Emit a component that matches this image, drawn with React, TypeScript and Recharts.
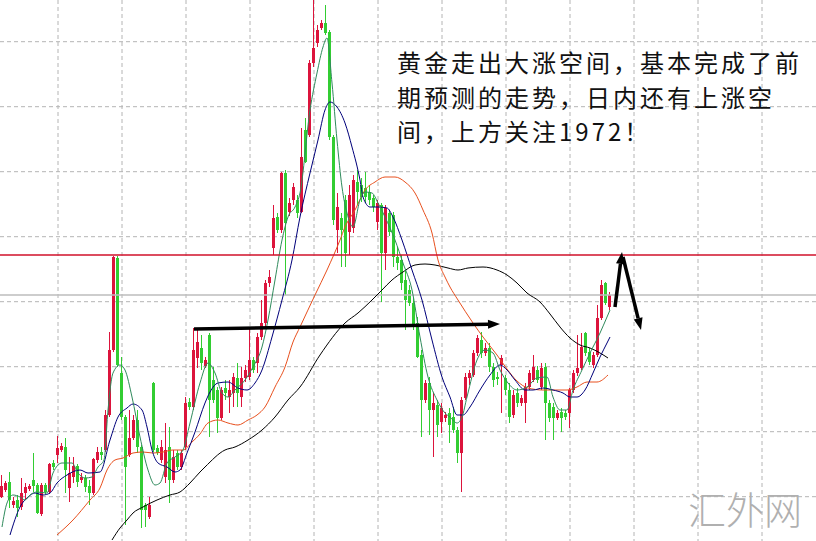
import {
  ComposedChart,
  Bar,
  Line,
  XAxis,
  YAxis,
  CartesianGrid,
  ReferenceLine,
} from "recharts";

// one candle per slot: [open, high, low, close]
const candles: [number, number, number, number][] = [
  [1947.8, 1950.0, 1947.7, 1948.9], [1948.5, 1949.4, 1948.3, 1949.2], [1949.3, 1950.3, 1946.7, 1947.5],
  [1947.0, 1947.8, 1946.7, 1947.4], [1947.5, 1948.0, 1945.8, 1946.7], [1946.8, 1949.7, 1946.5, 1948.2],
  [1948.2, 1949.2, 1947.5, 1948.8], [1948.6, 1949.1, 1948.4, 1948.9], [1949.5, 1952.2, 1948.3, 1948.9],
  [1949.0, 1949.2, 1946.1, 1946.2], [1946.1, 1949.2, 1945.9, 1949.0], [1949.0, 1949.2, 1948.1, 1948.3],
  [1948.3, 1951.2, 1948.1, 1951.1], [1951.2, 1951.5, 1950.5, 1950.8], [1952.0, 1953.9, 1951.2, 1952.7],
  [1952.5, 1953.2, 1952.3, 1952.9], [1952.8, 1953.7, 1948.2, 1950.5], [1948.7, 1951.8, 1947.3, 1950.2],
  [1949.8, 1951.8, 1949.2, 1950.9], [1950.9, 1951.1, 1948.8, 1949.3], [1949.5, 1950.2, 1949.2, 1949.8],
  [1949.7, 1950.0, 1948.3, 1948.8], [1948.9, 1949.5, 1947.0, 1948.2], [1948.2, 1951.7, 1948.0, 1951.6],
  [1951.5, 1952.8, 1951.2, 1952.3], [1952.3, 1952.8, 1951.5, 1952.0], [1952.5, 1956.5, 1952.3, 1956.0],
  [1956.0, 1964.3, 1955.8, 1962.5], [1962.5, 1971.9, 1962.3, 1971.8], [1971.7, 1971.9, 1960.8, 1961.0],
  [1960.2, 1961.8, 1955.5, 1955.8], [1955.8, 1956.0, 1945.0, 1950.8], [1952.0, 1956.5, 1951.8, 1953.7],
  [1953.7, 1956.0, 1953.5, 1955.5], [1955.5, 1956.5, 1952.2, 1952.8], [1952.8, 1953.0, 1944.7, 1946.5],
  [1947.0, 1947.2, 1944.8, 1946.5], [1945.8, 1947.8, 1945.6, 1947.0], [1959.2, 1959.3, 1952.3, 1952.5],
  [1952.7, 1953.0, 1952.0, 1952.2], [1951.5, 1953.5, 1951.2, 1952.8], [1949.8, 1955.2, 1949.2, 1952.5],
  [1952.8, 1954.8, 1947.2, 1949.5], [1949.5, 1952.5, 1949.2, 1951.8], [1952.2, 1952.5, 1950.5, 1950.8],
  [1950.8, 1952.5, 1950.5, 1952.2], [1952.8, 1957.8, 1952.5, 1957.2], [1957.3, 1957.7, 1956.5, 1956.8],
  [1956.8, 1964.7, 1956.5, 1962.5], [1961.7, 1964.5, 1960.7, 1963.3], [1962.7, 1964.0, 1960.5, 1961.2],
  [1960.9, 1961.8, 1960.7, 1961.5], [1964.0, 1964.2, 1953.8, 1957.5], [1959.5, 1960.8, 1957.2, 1957.5],
  [1958.5, 1958.8, 1954.2, 1955.7], [1955.7, 1958.8, 1955.5, 1958.5], [1958.7, 1959.5, 1957.5, 1958.2],
  [1957.8, 1959.5, 1956.2, 1958.5], [1958.2, 1960.2, 1956.8, 1959.8], [1959.7, 1961.2, 1956.8, 1958.2],
  [1957.8, 1960.8, 1956.8, 1959.7], [1959.7, 1961.0, 1959.3, 1960.5], [1959.8, 1964.8, 1959.5, 1961.5],
  [1961.5, 1961.8, 1960.2, 1960.5], [1961.2, 1964.2, 1960.2, 1963.8], [1963.8, 1967.5, 1963.5, 1965.2],
  [1965.2, 1969.5, 1964.8, 1969.2], [1969.2, 1970.5, 1968.8, 1969.8], [1972.7, 1977.0, 1972.0, 1975.7],
  [1975.8, 1976.2, 1974.2, 1974.5], [1974.5, 1980.3, 1974.2, 1980.2], [1980.2, 1980.5, 1968.0, 1975.2],
  [1976.3, 1977.7, 1975.9, 1977.2], [1977.5, 1979.2, 1977.0, 1978.8], [1977.5, 1978.0, 1975.7, 1976.2],
  [1976.3, 1984.7, 1976.2, 1981.8], [1984.5, 1985.7, 1981.2, 1981.3], [1984.0, 1991.5, 1983.8, 1991.2],
  [1991.2, 1997.5, 1990.8, 1992.7], [1993.2, 1995.0, 1992.8, 1994.5], [1994.7, 1995.5, 1994.5, 1995.2],
  [1995.2, 1997.0, 1994.0, 1994.2], [1994.3, 1994.5, 1983.5, 1983.8], [1983.8, 1984.0, 1975.0, 1975.5],
  [1974.5, 1978.2, 1972.2, 1976.8], [1975.7, 1976.2, 1970.8, 1974.5], [1977.5, 1978.0, 1970.8, 1972.2],
  [1974.3, 1979.0, 1972.0, 1978.0], [1974.7, 1980.0, 1974.2, 1979.5], [1979.3, 1980.5, 1977.0, 1978.3],
  [1979.0, 1979.7, 1977.3, 1977.8], [1978.7, 1980.3, 1977.2, 1977.8], [1978.3, 1979.0, 1977.0, 1977.5],
  [1977.7, 1978.0, 1976.3, 1976.8], [1975.3, 1977.5, 1974.5, 1977.2], [1977.0, 1977.2, 1967.3, 1972.2],
  [1972.2, 1977.0, 1970.5, 1976.7], [1976.2, 1976.5, 1973.9, 1974.3], [1976.0, 1976.3, 1970.8, 1971.8],
  [1971.8, 1972.8, 1970.5, 1971.2], [1971.5, 1972.0, 1968.5, 1969.2], [1969.5, 1970.5, 1964.5, 1967.5],
  [1968.5, 1969.0, 1966.9, 1967.2], [1967.2, 1967.7, 1964.5, 1964.8], [1965.2, 1965.8, 1961.7, 1961.8],
  [1962.0, 1962.5, 1953.8, 1957.5], [1957.5, 1959.5, 1957.2, 1959.2], [1959.2, 1959.8, 1954.0, 1956.5],
  [1956.5, 1958.2, 1951.8, 1957.2], [1957.0, 1957.5, 1953.8, 1955.0], [1955.3, 1957.2, 1954.2, 1956.7],
  [1955.7, 1956.3, 1955.3, 1956.0], [1956.2, 1956.7, 1953.2, 1955.0], [1955.8, 1956.8, 1954.2, 1954.5],
  [1954.5, 1954.8, 1951.2, 1952.2], [1952.2, 1957.8, 1948.3, 1957.5], [1957.7, 1960.2, 1957.5, 1959.8],
  [1959.7, 1960.5, 1959.0, 1960.2], [1960.0, 1962.5, 1959.8, 1962.2], [1962.2, 1964.0, 1961.9, 1963.7],
  [1963.5, 1964.3, 1961.7, 1962.2], [1962.2, 1963.2, 1961.9, 1962.7], [1962.7, 1963.2, 1960.3, 1960.8],
  [1960.8, 1961.2, 1958.8, 1959.5], [1959.8, 1960.3, 1959.0, 1959.6], [1961.0, 1962.0, 1956.2, 1961.7],
  [1959.7, 1960.0, 1958.0, 1958.5], [1958.5, 1959.2, 1955.2, 1955.8], [1956.0, 1958.5, 1955.7, 1958.0],
  [1958.2, 1958.7, 1956.8, 1957.2], [1957.2, 1958.0, 1956.9, 1957.7], [1957.2, 1959.2, 1955.2, 1958.8],
  [1958.8, 1960.5, 1958.5, 1960.2], [1959.5, 1962.0, 1959.3, 1960.8], [1960.5, 1960.9, 1959.2, 1959.5],
  [1958.8, 1961.2, 1958.5, 1960.7], [1960.8, 1961.2, 1953.5, 1957.2], [1957.2, 1957.5, 1955.3, 1955.7],
  [1956.8, 1957.2, 1953.5, 1955.7], [1955.7, 1956.5, 1955.5, 1956.2], [1956.3, 1956.7, 1954.3, 1955.7],
  [1956.2, 1956.5, 1955.5, 1955.8], [1956.2, 1958.7, 1954.7, 1958.5], [1958.5, 1960.5, 1958.2, 1960.2],
  [1960.2, 1964.0, 1959.9, 1960.7], [1960.7, 1964.2, 1960.5, 1962.8], [1964.2, 1964.3, 1961.9, 1962.2],
  [1962.3, 1962.7, 1961.0, 1961.3], [1961.0, 1962.3, 1960.7, 1962.0], [1962.0, 1967.0, 1961.8, 1965.7],
  [1965.7, 1969.5, 1965.5, 1969.0], [1969.2, 1969.3, 1967.0, 1967.2], [1966.8, 1968.3, 1966.5, 1968.0],
];

// moving averages: [slot, price]
const maFast: [number, number][] = [
  [0, 1944.8], [1.25, 1947.2], [2.75, 1948.0], [4.5, 1947.8], [5.75, 1947.5], [7, 1948.0], [8.75, 1948.3],
  [11.25, 1948.2], [12.75, 1950.2], [15, 1951.2], [17.5, 1951.2], [19, 1950.2], [20.75, 1949.7],
  [22.5, 1949.8], [24, 1950.8], [25.5, 1951.5], [26.5, 1956.5], [27.75, 1960.2], [29.5, 1961.0],
  [30.75, 1960.5], [32.5, 1957.8], [34.5, 1953.8], [36.5, 1950.5], [38.25, 1949.0], [39.5, 1949.2],
  [41.25, 1951.2], [43.25, 1951.8], [45.25, 1952.5], [47, 1955.2], [49.5, 1959.2], [51.5, 1961.2],
  [53.25, 1960.2], [55, 1958.2], [56.5, 1957.8], [58.25, 1958.5], [60.75, 1959.5], [62.75, 1960.8],
  [65, 1962.8], [66.5, 1965.5], [68.25, 1969.5], [70, 1973.5], [71.5, 1975.8], [73.25, 1976.8],
  [74.5, 1978.2], [77, 1986.5], [78.75, 1990.2], [80.25, 1992.8], [81.25, 1993.7], [82.5, 1989.2],
  [83.75, 1983.5], [85, 1978.8], [86.25, 1976.2], [87.75, 1974.8], [89.5, 1977.5], [90.75, 1978.3],
  [92.5, 1978.2], [94, 1977.2], [95.75, 1975.8], [98.25, 1973.5], [100.25, 1971.2], [102.5, 1968.5],
  [104.5, 1963.8], [106.5, 1959.8], [108.75, 1957.5], [110.75, 1956.2], [112, 1955.8], [113.75, 1955.2],
  [115, 1955.8], [116.25, 1957.8], [118.75, 1961.5], [120.75, 1962.5], [122.75, 1962.2], [124.5, 1960.5],
  [126.5, 1959.2], [128.75, 1958.5], [131.25, 1958.8], [133.75, 1959.7], [136.25, 1959.8],
  [137.75, 1957.8], [139.5, 1956.5], [141.25, 1956.5], [142.75, 1958.5], [145, 1960.5], [147, 1962.2],
  [149.5, 1964.2], [151.25, 1965.8], [152, 1966.5],
];

const maMid: [number, number][] = [
  [2, 1944.0], [4.5, 1946.8], [6.5, 1947.8], [8.25, 1948.2], [10.25, 1948.0], [12, 1948.2],
  [13.75, 1949.2], [16.25, 1950.0], [19.5, 1950.5], [21.5, 1950.2], [24.5, 1950.3], [27, 1953.5],
  [29, 1955.8], [31.25, 1956.7], [32.75, 1957.1], [35, 1956.5], [36.25, 1954.8], [37.5, 1952.5],
  [39, 1951.2], [41.25, 1950.8], [43.25, 1950.3], [44.5, 1950.5], [46.25, 1952.2], [48.25, 1954.3],
  [50.75, 1957.2], [52, 1958.3], [54, 1959.2], [56.5, 1959.3], [59, 1958.7], [61.25, 1958.5],
  [63.25, 1959.2], [65, 1960.5], [67.5, 1963.8], [70, 1967.5], [72.5, 1971.5], [74.5, 1975.8],
  [77, 1980.2], [79, 1983.5], [80.75, 1986.5], [82, 1987.3], [83.75, 1986.8], [85.75, 1985.2],
  [87.5, 1982.8], [89.5, 1979.5], [90.25, 1977.8], [92, 1976.8], [94, 1976.8], [96.25, 1976.7],
  [97.75, 1975.8], [100, 1973.5], [102.5, 1970.5], [105, 1967.5], [107.5, 1963.5], [110, 1959.8],
  [112, 1957.8], [113.75, 1956.0], [115.25, 1956.0], [117, 1956.8], [119.5, 1958.5], [122, 1960.0],
  [124.5, 1961.0], [126.25, 1960.5], [128.25, 1959.5], [130.75, 1958.5], [132.75, 1958.5],
  [135.25, 1958.7], [137.75, 1958.5], [140.25, 1958.2], [142, 1957.8], [143.75, 1957.8],
  [145.75, 1958.5], [147.75, 1960.2], [149.5, 1961.8], [151.25, 1963.2], [152, 1963.8],
];

const maSlow: [number, number][] = [
  [13.75, 1944.0], [17.75, 1945.5], [22, 1947.5], [24.5, 1948.7], [26.25, 1950.5], [28.25, 1951.5],
  [30.25, 1951.7], [32.75, 1952.2], [35.25, 1952.3], [37.75, 1952.2], [40.25, 1952.3], [42.75, 1952.5],
  [45.25, 1952.5], [47.5, 1953.3], [49.5, 1954.1], [51.5, 1955.2], [54, 1955.5], [56.5, 1955.2],
  [59, 1955.0], [61.5, 1955.5], [63.75, 1956.0], [65.75, 1956.8], [68.25, 1958.8], [70.75, 1960.8],
  [72.75, 1963.3], [74.5, 1964.8], [78.25, 1968.0], [81.25, 1970.5], [84.5, 1973.5], [85.75, 1974.8],
  [88.25, 1976.5], [90.75, 1978.5], [93.25, 1979.3], [95.75, 1979.8], [98.25, 1979.8], [100.75, 1979.3],
  [103.25, 1978.2], [105.25, 1976.5], [107.5, 1974.2], [109, 1971.5], [110.75, 1969.8], [112, 1968.8],
  [114, 1967.5], [117.75, 1965.2], [120.25, 1963.8], [123.75, 1962.0], [126.25, 1960.6],
  [128.75, 1959.4], [131.5, 1958.7], [135.25, 1958.5], [137.75, 1958.5], [141.25, 1958.5],
  [143.75, 1958.8], [146.25, 1959.3], [148.75, 1959.3], [151.5, 1960.0],
];

const maLong: [number, number][] = [
  [27.5, 1943.5], [29.5, 1944.7], [31.25, 1945.5], [32.75, 1946.2], [35.25, 1946.8], [38.75, 1947.5],
  [42, 1948.0], [44.5, 1948.3], [47, 1949.2], [49.5, 1950.3], [50.75, 1950.8], [55.75, 1952.5],
  [58.25, 1952.8], [61.5, 1953.5], [65, 1954.5], [68.25, 1955.8], [71.5, 1957.5], [74.5, 1958.8],
  [79.5, 1962.0], [85.75, 1965.2], [89, 1966.2], [92.5, 1967.5], [95, 1968.5], [97.5, 1969.5],
  [100.25, 1970.3], [103.25, 1971.0], [105.75, 1971.1], [108.25, 1971.0], [111.5, 1970.7],
  [114, 1970.5], [116.5, 1970.7], [120.25, 1970.8], [123.75, 1970.5], [126.25, 1970.0],
  [128.75, 1969.2], [131.25, 1968.2], [134.5, 1967.3], [137, 1966.1], [139.5, 1964.8], [142, 1963.7],
  [144.5, 1963.0], [147, 1962.7], [149.5, 1962.2], [151.5, 1961.7],
];

const xTicks = [14, 30, 46, 62, 78, 94, 110, 126, 142, 158, 174, 190];
const yTicks = [1947.83, 1954.33, 1960.83, 1967.33, 1973.83, 1980.33, 1986.83, 1993.33];
const resistance = 1972;
const grayLevel = 1968;

const trendArrow = [{ x: 48, y: 1964.6 }, { x: 124.5, y: 1965.1 }];
const upArrow = [{ x: 153.25, y: 1966.8 }, { x: 155, y: 1972.3 }];
const downArrow = [{ x: 155.25, y: 1971.8 }, { x: 159.75, y: 1964.5 }];

const noteLines = [
  "黄金走出大涨空间，基本完成了前",
  "期预测的走势，日内还有上涨空",
  "间，上方关注1972！",
];
const watermark = "汇外网";

const data = candles.map(([o, h, l, c], i) => ({ i, range: [l, h], o, h, l, c }));
const toPts = (pts: [number, number][]) => pts.map(([i, v]) => ({ i, v }));

const UP = "#DC143C";
const DOWN = "#32CD32";

const Candle = (props: any) => {
  const { x, width, payload } = props;
  let { y, height } = props;
  if (height < 0) {
    y += height;
    height = -height;
  }
  const { o, h, l, c } = payload;
  const color = c >= o ? UP : DOWN;
  const span = h - l || 1;
  const py = (v: number) => y + ((h - v) / span) * height;
  const cx = Math.floor(x + width / 2) + 0.5;
  const top = py(Math.max(o, c));
  const bot = py(Math.min(o, c));
  return (
    <g>
      <line x1={cx} x2={cx} y1={y} y2={y + height} stroke={color} strokeWidth={1} />
      <rect x={cx - 1.5} y={top} width={3} height={Math.max(1, bot - top)} fill={color} />
    </g>
  );
};

const Arrow = (props: any) => {
  const { x1, y1, x2, y2 } = props;
  const ang = Math.atan2(y2 - y1, x2 - x1);
  const len = 12;
  const half = 4.5;
  const bx = x2 - len * Math.cos(ang);
  const by = y2 - len * Math.sin(ang);
  const nx = -Math.sin(ang) * half;
  const ny = Math.cos(ang) * half;
  return (
    <g>
      <line x1={x1} y1={y1} x2={bx} y2={by} stroke="#000" strokeWidth={3.5} />
      <polygon points={`${x2},${y2} ${bx + nx},${by + ny} ${bx - nx},${by - ny}`} fill="#000" />
    </g>
  );
};

const maLine = (pts: [number, number][], color: string) => (
  <Line
    data={toPts(pts)}
    dataKey="v"
    type="monotone"
    stroke={color}
    strokeWidth={1}
    dot={false}
    activeDot={false}
    isAnimationActive={false}
  />
);

export default function App() {
  return (
    <div style={{ position: "absolute", left: 0, top: 0, width: 816, height: 541, background: "#fff" }}>
      <ComposedChart width={816} height={541} data={data} margin={{ top: 0, right: 0, bottom: 0, left: 0 }}>
        <CartesianGrid
          stroke="#b4b4b4"
          strokeDasharray="4 3"
          verticalValues={xTicks}
          horizontalValues={yTicks}
        />
        <XAxis type="number" dataKey="i" domain={[-0.5, 203.5]} ticks={xTicks} hide allowDataOverflow />
        <YAxis type="number" domain={[1943.4, 1997.5]} ticks={yTicks} hide allowDataOverflow />
        <ReferenceLine y={grayLevel} stroke="#bdbdbd" strokeWidth={1.5} />
        <Bar dataKey="range" barSize={3} shape={<Candle />} isAnimationActive={false} />
        {maLine(maLong, "#000")}
        {maLine(maSlow, "#e8501e")}
        {maLine(maMid, "#00007a")}
        {maLine(maFast, "#2f8a5c")}
        <ReferenceLine y={resistance} stroke="#d0102a" strokeWidth={1.5} />
        <ReferenceLine segment={trendArrow} ifOverflow="visible" shape={Arrow} />
        <ReferenceLine segment={upArrow} ifOverflow="visible" shape={Arrow} />
        <ReferenceLine segment={downArrow} ifOverflow="visible" shape={Arrow} />
      </ComposedChart>
      <div
        style={{
          position: "absolute",
          left: 397,
          top: 45,
          width: 420,
          fontFamily: "'Noto Sans CJK SC', sans-serif",
          fontSize: 24,
          letterSpacing: 3,
          lineHeight: "34.5px",
          color: "#111",
          whiteSpace: "nowrap",
          pointerEvents: "none",
        }}
      >
        {noteLines.map((t, k) => (
          <div key={k}>{t}</div>
        ))}
      </div>
      <div
        style={{
          position: "absolute",
          left: 688,
          top: 488,
          fontFamily: "'Noto Sans CJK SC', sans-serif",
          fontSize: 38,
          fontWeight: 300,
          lineHeight: "40px",
          color: "#b0b0b0",
          whiteSpace: "nowrap",
          pointerEvents: "none",
        }}
      >
        {watermark}
      </div>
    </div>
  );
}
